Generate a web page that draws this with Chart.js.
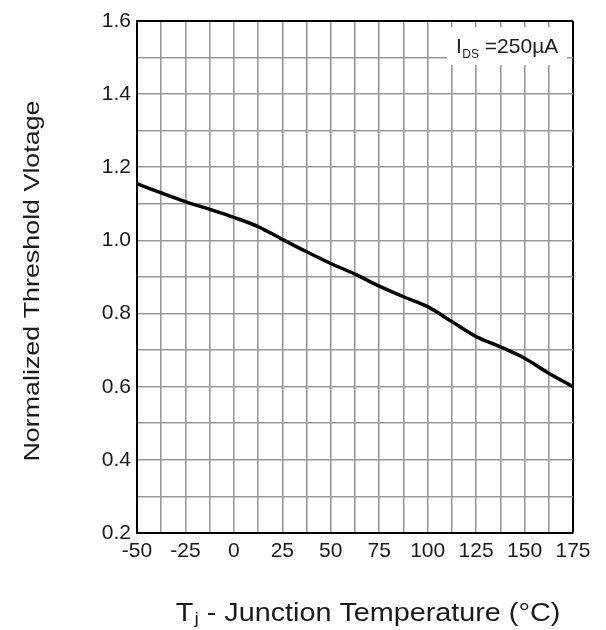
<!DOCTYPE html>
<html>
<head>
<meta charset="utf-8">
<script src="https://cdn.jsdelivr.net/npm/chart.js@4.4.1/dist/chart.umd.min.js"></script>
<style>
  html, body { margin: 0; padding: 0; background: #fff; }
  #wrap { width: 606px; height: 630px; }
</style>
</head>
<body>
<div id="wrap"><canvas id="c" width="606" height="630"></canvas></div>
<script>
// Junction temperature (°C)
const temperatures = [-50, -37.5, -25, -12.5, 0, 12.5, 25, 37.5, 50, 62.5, 75, 87.5, 100, 112.5, 125, 137.5, 150, 162.5, 175];
// Normalized threshold voltage
const thresholdVoltage = [1.155, 1.130, 1.106, 1.085, 1.063, 1.038, 1.003, 0.969, 0.937, 0.908, 0.875, 0.846, 0.819, 0.778, 0.737, 0.709, 0.678, 0.637, 0.600];

// Grid positions and labelled ticks
const xGrid = [-50, -37.5, -25, -12.5, 0, 12.5, 25, 37.5, 50, 62.5, 75, 87.5, 100, 112.5, 125, 137.5, 150, 162.5, 175];
const xTickLabels = [-50, -25, 0, 25, 50, 75, 100, 125, 150, 175];
const yGrid = [0.2, 0.3, 0.4, 0.5, 0.6, 0.7, 0.8, 0.9, 1.0, 1.1, 1.2, 1.3, 1.4, 1.5, 1.6];
const yTickLabels = [0.2, 0.4, 0.6, 0.8, 1.0, 1.2, 1.4, 1.6];

const yTitle = 'Normalized Threshold Vlotage';
const xTitleMain = 'T';
const xTitleSub = 'j';
const xTitleRest = ' - Junction Temperature (°C)';
const noteMain = 'I';
const noteSub = 'DS';
const noteRest = ' =250µA';

const FONT = '"Liberation Sans", Arial, sans-serif';
const TEXT = '#1a1a1a';
const near = (a, b) => Math.abs(a - b) < 1e-6;

const textPlugin = {
  id: 'texts',
  afterDraw(chart) {
    const { ctx, chartArea: a } = chart;
    ctx.save();
    // annotation box
    const bx = a.right - 126, by = a.top + 6;
    ctx.fillStyle = '#fff';
    ctx.fillRect(bx, by, 120, 38);
    ctx.fillStyle = TEXT;
    ctx.textBaseline = 'alphabetic';
    ctx.textAlign = 'left';
    let x = bx + 9;
    const base = by + 26;
    ctx.font = '21px ' + FONT;
    ctx.fillText(noteMain, x, base);
    x += ctx.measureText(noteMain).width + 0.5;
    ctx.font = '12px ' + FONT;
    ctx.fillText(noteSub, x, base + 5);
    x += ctx.measureText(noteSub).width;
    ctx.font = '21px ' + FONT;
    ctx.fillText(noteRest, x, base);

    // x title
    ctx.save();
    const sx = 1.15;
    ctx.font = '25px ' + FONT;
    const w1 = ctx.measureText(xTitleMain).width;
    const w3 = ctx.measureText(xTitleRest).width;
    ctx.font = '17px ' + FONT;
    const w2 = ctx.measureText(xTitleSub).width;
    const total = (w1 + w2 + w3 + 1) * sx;
    const cx = (a.left + a.right) / 2 + 13;
    ctx.translate(cx - total / 2, 621);
    ctx.scale(sx, 1);
    ctx.font = '25px ' + FONT;
    ctx.fillText(xTitleMain, 0, 0);
    ctx.font = '17px ' + FONT;
    ctx.fillText(xTitleSub, w1 + 1, 3);
    ctx.font = '25px ' + FONT;
    ctx.fillText(xTitleRest, w1 + w2 + 1, 0);
    ctx.restore();

    // y title
    ctx.save();
    ctx.translate(33, 281);
    ctx.rotate(-Math.PI / 2);
    ctx.scale(1.22, 1);
    ctx.font = '22px ' + FONT;
    ctx.textAlign = 'center';
    ctx.textBaseline = 'middle';
    ctx.fillText(yTitle, 0, 0);
    ctx.restore();

    ctx.restore();
  }
};

new Chart(document.getElementById('c'), {
  type: 'line',
  data: {
    datasets: [{
      data: temperatures.map((t, i) => ({ x: t, y: thresholdVoltage[i] })),
      borderColor: '#000',
      borderWidth: 3.5,
      pointRadius: 0,
      tension: 0.4,
      cubicInterpolationMode: 'monotone',
      fill: false
    }]
  },
  options: {
    responsive: false,
    animation: false,
    layout: { padding: { left: 0, right: 33, top: 21, bottom: 0 } },
    plugins: { legend: { display: false }, tooltip: { enabled: false }, title: { display: false } },
    scales: {
      x: {
        type: 'linear',
        min: -50, max: 175,
        afterBuildTicks: s => { s.ticks = xGrid.map(v => ({ value: v })); },
        afterFit: s => { s.height = 97; },
        grid: {
          color: c => (c.tick && near(c.tick.value, 175)) ? '#000' : '#999',
          lineWidth: c => (c.tick && near(c.tick.value, 175)) ? 2 : 1.6,
          drawTicks: false
        },
        border: { color: '#000', width: 2 },
        ticks: {
          autoSkip: false,
          maxRotation: 0,
          padding: 6,
          color: TEXT,
          font: { family: FONT, size: 21 },
          callback: v => xTickLabels.some(t => near(t, v)) ? String(v) : ''
        }
      },
      y: {
        min: 0.2, max: 1.6,
        afterBuildTicks: s => { s.ticks = yGrid.map(v => ({ value: v })); },
        afterFit: s => { s.width = 137; },
        grid: {
          color: c => (c.tick && near(c.tick.value, 1.6)) ? '#000' : '#999',
          lineWidth: c => (c.tick && near(c.tick.value, 1.6)) ? 2 : 1.6,
          drawTicks: false
        },
        border: { color: '#000', width: 2 },
        ticks: {
          autoSkip: false,
          padding: 6,
          color: TEXT,
          font: { family: FONT, size: 21 },
          callback: v => yTickLabels.some(t => near(t, v)) ? v.toFixed(1) : ''
        }
      }
    }
  },
  plugins: [textPlugin]
});
</script>
</body>
</html>
